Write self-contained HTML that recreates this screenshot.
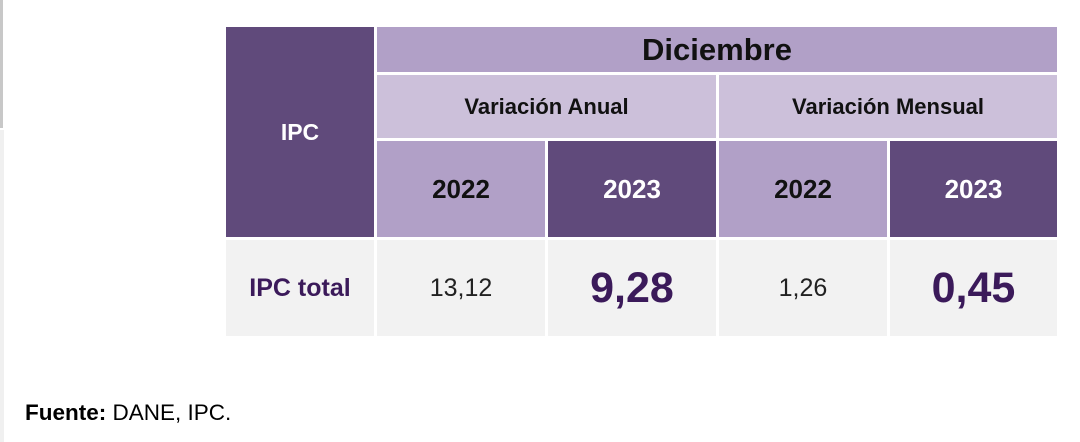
<!DOCTYPE html>
<html><head><meta charset="utf-8"><style>
body{margin:0;width:1080px;height:442px;background:#fff;position:relative;overflow:hidden;font-family:"Liberation Sans",sans-serif}
.c{position:absolute;display:flex;align-items:center;justify-content:center;font-weight:bold;box-sizing:border-box}
.d{background:#604a7b;color:#fff}
.m{background:#b1a0c7;color:#111}
.l{background:#ccc0da;color:#111}
.g{background:#f2f2f2;color:#3b1a5a}
</style></head><body>
<div style="position:absolute;left:0;top:0;width:3px;height:128px;background:#c8c8c8"></div>
<div style="position:absolute;left:0;top:130px;width:4px;height:312px;background:#f0f0f0"></div>

<div class="c d" style="left:226px;top:27px;width:148px;height:210px;font-size:23px">IPC</div>
<div class="c m" style="left:377px;top:27px;width:680px;height:45px;font-size:31px">Diciembre</div>
<div class="c l" style="left:377px;top:75px;width:339px;height:63px;font-size:22px">Variación Anual</div>
<div class="c l" style="left:719px;top:75px;width:338px;height:63px;font-size:22px">Variación Mensual</div>
<div class="c m" style="left:377px;top:141px;width:168px;height:96px;font-size:26px">2022</div>
<div class="c d" style="left:548px;top:141px;width:168px;height:96px;font-size:26px">2023</div>
<div class="c m" style="left:719px;top:141px;width:168px;height:96px;font-size:26px">2022</div>
<div class="c d" style="left:890px;top:141px;width:167px;height:96px;font-size:26px">2023</div>

<div class="c g" style="left:226px;top:240px;width:148px;height:96px;font-size:25px">IPC total</div>
<div class="c g" style="left:377px;top:240px;width:168px;height:96px;font-size:25px;font-weight:normal;color:#222">13,12</div>
<div class="c g" style="left:548px;top:240px;width:168px;height:96px;font-size:43px">9,28</div>
<div class="c g" style="left:719px;top:240px;width:168px;height:96px;font-size:25px;font-weight:normal;color:#222">1,26</div>
<div class="c g" style="left:890px;top:240px;width:167px;height:96px;font-size:43px">0,45</div>

<div style="position:absolute;left:25px;top:400px;font-size:22.5px;color:#000"><b>Fuente:</b> DANE, IPC.</div>
</body></html>
